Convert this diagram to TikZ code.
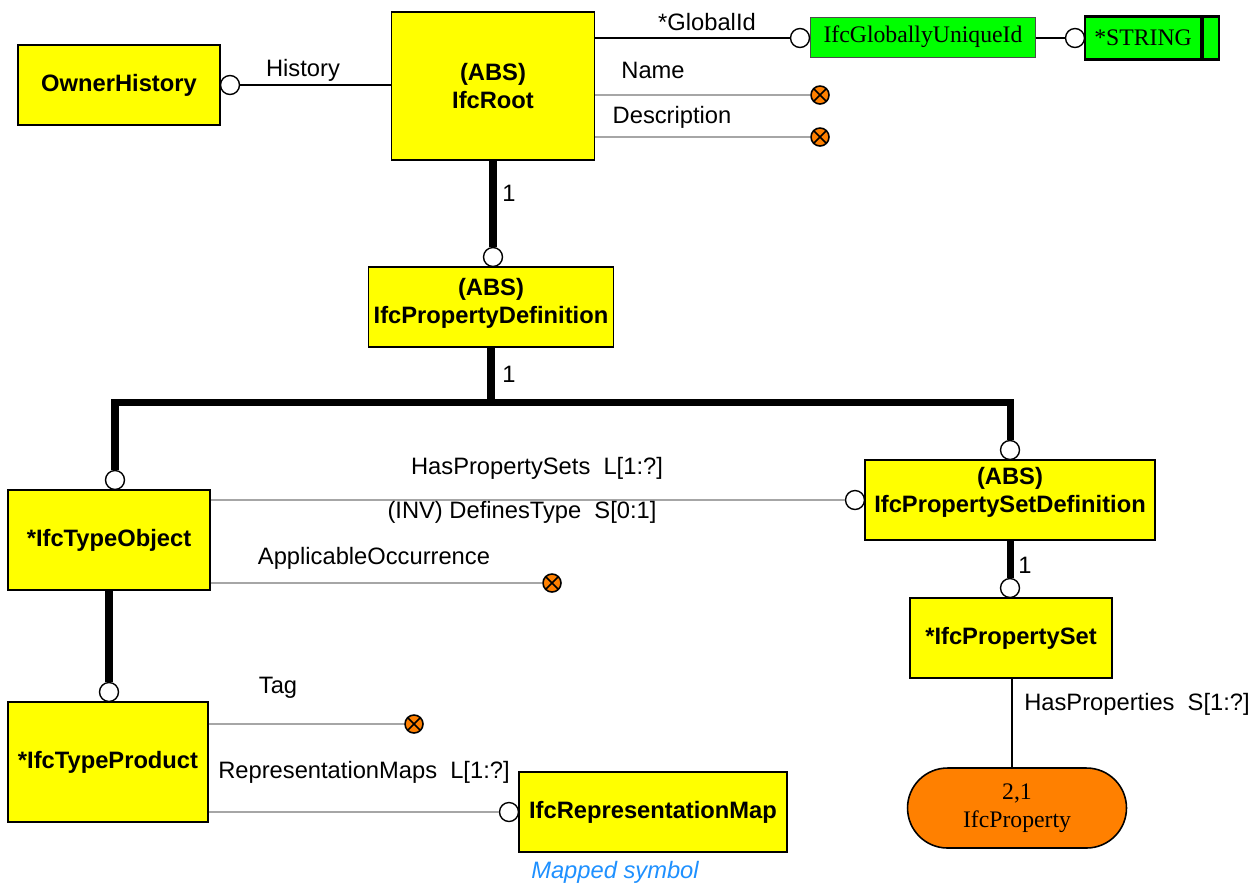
\documentclass[tikz,border=0pt]{standalone}
\usepackage{fontspec}
\setmainfont{Liberation Sans}
\newfontfamily\serifo{Liberation Serif}
\usepackage{tikz}
\usetikzlibrary{positioning}
\usetikzlibrary{shapes.misc}

\definecolor{entyellow}{RGB}{255,255,0}
\definecolor{typegreen}{RGB}{0,255,0}
\definecolor{xorange}{RGB}{255,128,0}
\definecolor{mapblue}{RGB}{30,144,255}

\begin{document}
\begin{tikzpicture}[x=0.02cm, y=-0.02cm,
    every node/.style={font=\fontsize{13.5}{16}\selectfont, inner sep=0pt},
    entity/.style={draw, line width=0.9pt, fill=entyellow, align=center, font=\fontsize{13.5}{16}\selectfont\bfseries},
    ocirc/.style={draw, circle, fill=white, minimum size=0.38cm, line width=0.8pt},
    xcirc/.style={draw, circle, fill=xorange, minimum size=0.36cm, line width=0.9pt,
      path picture={\draw[line width=0.9pt] (path picture bounding box.north west) -- (path picture bounding box.south east)
        (path picture bounding box.north east) -- (path picture bounding box.south west);}},
    heavy/.style={line width=4pt},
    attr/.style={draw=gray!70, line width=0.6pt},
    rel/.style={line width=1pt}]
            \useasboundingbox (0,0) rectangle (1256,887);

            % Entidades
            \node[entity, minimum width=4.04cm, minimum height=1.6cm] (oh) at (119,85) {OwnerHistory};
            \node[entity, minimum width=4.06cm, minimum height=2.96cm] (root) at (493,86) {(ABS)\\IfcRoot};
            \node[draw=gray!60!black, fill=typegreen, minimum width=4.5cm, minimum height=0.8cm, font=\fontsize{13.5}{16}\selectfont\serifo] (gid) at (923,37) {IfcGloballyUniqueId};
            \node[draw, line width=1.2pt, fill=typegreen, minimum width=2.32cm, minimum height=0.86cm, font=\fontsize{13.5}{16}\selectfont\serifo] (str) at (1143,38) {*STRING};
            \node[draw, line width=1.2pt, fill=typegreen, minimum width=0.32cm, minimum height=0.86cm, right=0pt of str] (strend) {};
            \node[entity, minimum width=4.9cm, minimum height=1.6cm] (pd) at (491,307) {(ABS)\\IfcPropertyDefinition\\[-9pt]\mbox{}};
            \node[entity, minimum width=4.04cm, minimum height=2cm] (to) at (109,540) {*IfcTypeObject};
            \node[entity, minimum width=4cm, minimum height=2.4cm] (tp) at (108,762) {*IfcTypeProduct};
            \node[entity, minimum width=5.8cm, minimum height=1.6cm] (psd) at (1010,500) {(ABS)\\IfcPropertySetDefinition\\[-4pt]\mbox{}};
            \node[entity, minimum width=4.04cm, minimum height=1.6cm] (ps) at (1011,638) {*IfcPropertySet};
            \node[entity, minimum width=5.36cm, minimum height=1.6cm] (rm) at (653,812) {IfcRepresentationMap};
            \node[draw, line width=0.9pt, rounded rectangle, fill=xorange, align=center, minimum width=4.38cm, minimum height=1.6cm, font=\fontsize{13.5}{16}\selectfont\serifo] (prop) at (1017,808) {2,1\\IfcProperty};

            % Conectores
            \node[ocirc] (c_oh) at (230,85) {};
            \node[ocirc] (c_gid) at (800,38) {};
            \node[ocirc] (c_str) at (1075,38) {};
            \node[ocirc] (c_pd) at (493,257) {};
            \node[ocirc] (c_to) at (115,480) {};
            \node[ocirc] (c_psd) at (1010,450) {};
            \node[ocirc] (c_psdl) at (855,500) {};
            \node[ocirc] (c_tp) at (109,692) {};
            \node[ocirc] (c_rm) at (509,812) {};
            \node[ocirc] (c_ps) at (1010,588) {};
            \node[xcirc] (x_name) at (820,95) {};
            \node[xcirc] (x_desc) at (820,137) {};
            \node[xcirc] (x_appl) at (552,583) {};
            \node[xcirc] (x_tag) at (414,724) {};
            \coordinate[below=1.1cm of pd] (j);

            % Aristas
            \draw[rel] (c_oh.east) -- (c_oh.east -| root.west);
            \draw[rel] (root.east |- c_gid) -- (c_gid.west);
            \draw[rel] (gid.east |- c_str) -- (c_str.west);
            \draw[attr] (root.east |- x_name) -- (x_name.west);
            \draw[attr] (root.east |- x_desc) -- (x_desc.west);
            \draw[heavy] (root.south) -- (c_pd.north);
            \draw[heavy] (pd.south) -- (j);
            \draw[heavy] (c_to.north) |- (j) -| (c_psd.north);
            \draw[heavy] (to.south -| c_tp) -- (c_tp.north);
            \draw[heavy] (psd.south) -- (c_ps.north);
            \draw[attr] (to.east |- c_psdl) -- (c_psdl.west);
            \draw[attr] (to.east |- x_appl) -- (x_appl.west);
            \draw[attr] (tp.east |- x_tag) -- (x_tag.west);
            \draw[attr] (tp.east |- c_rm) -- (c_rm.west);
            \draw[rel] (ps.south -| 1012,0) -- (prop.north -| 1012,0);

            % Etiquetas
            \node (l_hist) at (303,70) {History};
            \node (l_gid) at (707,22) {*GlobalId};
            \node (l_name) at (653,70) {Name};
            \node (l_desc) at (672,117) {Description};
            \node (l_one1) at (509,193) {1};
            \node (l_one2) at (509,374) {1};
            \node (l_hps) at (537,468) {HasPropertySets~~L[1:?]};
            \node (l_dt) at (522,512) {(INV) DefinesType~~S[0:1]};
            \node (l_appl) at (374,558) {ApplicableOccurrence};
            \node (l_tag) at (278,688) {Tag};
            \node (l_rm) at (364,772) {RepresentationMaps~~L[1:?]};
            \node[text=mapblue, font=\fontsize{13.5}{16}\selectfont\itshape] (l_map) at (615,872) {Mapped symbol};
            \node (l_one3) at (1025,565) {1};
            \node (l_hp) at (1137,704) {HasProperties~~S[1:?]};
\end{tikzpicture}
\end{document}
